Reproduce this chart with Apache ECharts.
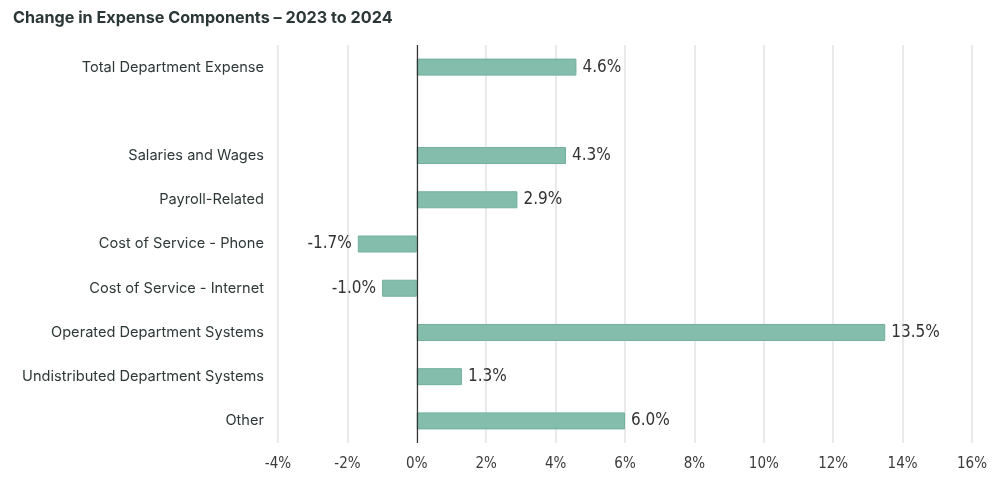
<!DOCTYPE html>
<html><head><meta charset="utf-8">
<script src="https://cdn.jsdelivr.net/npm/echarts@6/dist/echarts.min.js"></script>
<style>html,body{margin:0;padding:0;background:#fff}#c{width:1000px;height:485px}</style>
</head><body><div id="c"></div>
<script>
const categories = ['Total Department Expense', '', 'Salaries and Wages', 'Payroll-Related', 'Cost of Service - Phone', 'Cost of Service - Internet', 'Operated Department Systems', 'Undistributed Department Systems', 'Other'];
const values = [4.6, null, 4.3, 2.9, -1.7, -1.0, 13.5, 1.3, 6.0];
const xTicks = [-4, -2, 0, 2, 4, 6, 8, 10, 12, 14, 16];

const narrow = '"Liberation Sans Narrow", "DejaVu Sans Condensed", sans-serif';
const chart = echarts.init(document.getElementById('c'));
chart.setOption({
  animation: false,
  title: {
    text: 'Change in Expense Components \u2013 2023 to 2024',
    left: 8, top: 5,
    textStyle: { fontFamily: 'Inter, "Noto Sans", sans-serif', fontSize: 16.2, fontWeight: 'bold', color: '#2b3636' }
  },
  grid: { left: 278, right: 28, top: 45, bottom: 42 },
  xAxis: {
    type: 'value', min: xTicks[0], max: xTicks[xTicks.length - 1], interval: 2,
    axisLine: { show: false }, axisTick: { show: false },
    splitLine: { lineStyle: { color: '#e3e3e3', width: 1.5 } },
    axisLabel: { formatter: v => v + '%', fontFamily: narrow, fontSize: 15, color: '#3a3a3a', margin: 14 }
  },
  yAxis: {
    type: 'category', data: categories, inverse: true,
    axisLine: { show: false }, axisTick: { show: false },
    axisLabel: { fontFamily: 'Inter, "Open Sans", sans-serif', fontSize: 14.6, color: '#2f3838', margin: 14 }
  },
  series: [{
    type: 'bar', barWidth: 17,
    data: values.map(v => v === null ? null : {
      value: v,
      label: { position: v < 0 ? 'left' : 'right' }
    }),
    itemStyle: { color: '#85bdad', borderColor: '#72b09e', borderWidth: 1 },
    label: {
      show: true, distance: 6,
      formatter: p => p.value.toFixed(1) + '%',
      fontFamily: narrow, fontSize: 17, color: '#333'
    },
    markLine: {
      silent: true, symbol: 'none', label: { show: false },
      lineStyle: { color: '#333', width: 1.2, type: 'solid' },
      data: [{ xAxis: 0 }]
    }
  }]
});
</script></body></html>
